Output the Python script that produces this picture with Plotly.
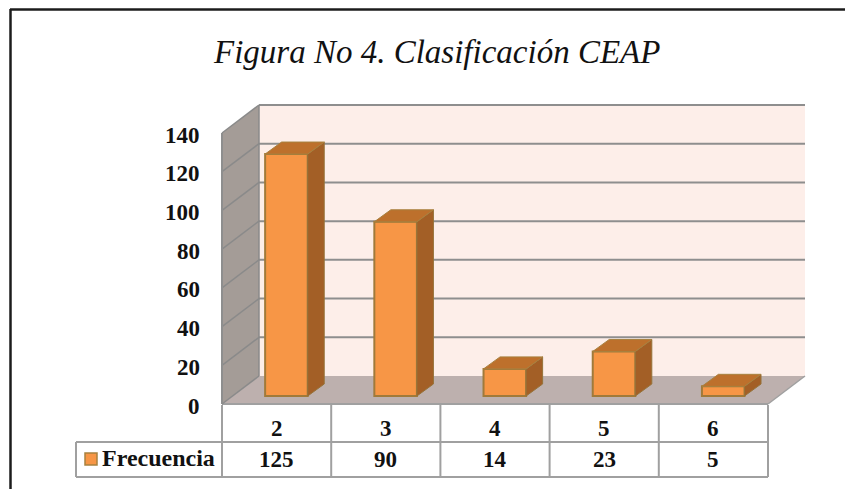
import plotly.graph_objects as go

categories = ["2", "3", "4", "5", "6"]
frecuencia = [125, 90, 14, 23, 5]
y_ticks = [0, 20, 40, 60, 80, 100, 120, 140]

WIDTH, HEIGHT = 845, 489
FONT = "Liberation Serif"
DARK = "#1c1c1c"
GRID = "#8e8e8e"

# pixels of one unit on each axis, and where (0, 0) of the front plane sits
X_UNIT, Y_UNIT = 109.2, 271 / 140
X0_PX, Y0_PX = 222, 404

# depth of the walls and of the bars, in axis units
WALL_DX, WALL_DY = 37 / X_UNIT, 28 / Y_UNIT
BAR_DX, BAR_DY = 16.5 / X_UNIT, 12 / Y_UNIT
BAR_BASE = 8 / Y_UNIT
BAR_SHIFT = 0.59
BAR_WIDTH = 0.39
N = len(categories)
TOP = y_ticks[-1]


def px(v):
    return v / WIDTH


def py(v):
    return 1 - v / HEIGHT


def poly(x, y, color):
    path = "M " + " L ".join(f"{a},{b}" for a, b in zip(x, y)) + " Z"
    return dict(type="path", path=path, xref="x", yref="y", fillcolor=color, line=dict(width=0), layer="below")


def seg(x0, y0, x1, y1, color=GRID, width=2):
    return dict(type="line", x0=x0, y0=y0, x1=x1, y1=y1, xref="x", yref="y", line=dict(color=color, width=width), layer="below")


def table_line(x0, y0, x1, y1):
    return dict(type="line", x0=px(x0), y0=py(y0), x1=px(x1), y1=py(y1), xref="paper", yref="paper", line=dict(color="#a0a0a0", width=2))


def label(x, y, text, size, xanchor="center"):
    return dict(x=px(x), y=py(y), xref="paper", yref="paper", text=text, showarrow=False,
                xanchor=xanchor, yanchor="middle", font=dict(family=FONT, size=size, color="#111111"))


shapes = [
    poly([WALL_DX, N + WALL_DX, N + WALL_DX, WALL_DX], [WALL_DY, WALL_DY, TOP + WALL_DY, TOP + WALL_DY], "#fdeee9"),
    poly([0, WALL_DX, WALL_DX, 0], [0, WALL_DY, TOP + WALL_DY, TOP], "#a49c97"),
    poly([0, N, N + WALL_DX, WALL_DX], [0, 0, WALL_DY, WALL_DY], "#bdb0ae"),
]
for t in y_ticks[1:]:
    shapes.append(seg(WALL_DX, t + WALL_DY, N + WALL_DX, t + WALL_DY))
    shapes.append(seg(0, t, WALL_DX, t + WALL_DY, "#8a8a8a", 1.5))
shapes += [
    seg(0, 0, 0, TOP),
    seg(WALL_DX, WALL_DY, WALL_DX, TOP + WALL_DY, "#8a8a8a", 1.5),
    seg(0, 0, N, 0, "#a0a0a0", 2),
    seg(0, 0, WALL_DX, WALL_DY, "#8a8a8a", 1.5),
    seg(N, 0, N + WALL_DX, WALL_DY, "#a0a0a0", 1.5),
]

# data table under the plot
for i in range(N + 1):
    shapes.append(table_line(X0_PX + i * X_UNIT, 405, X0_PX + i * X_UNIT, 477))
shapes += [
    table_line(76, 442, X0_PX + N * X_UNIT, 442),
    table_line(76, 477, X0_PX + N * X_UNIT, 477),
    table_line(76, 442, 76, 477),
    dict(type="rect", x0=px(85), y0=py(453), x1=px(97), y1=py(465), xref="paper", yref="paper",
         fillcolor="#f79646", line=dict(color="#a8813f", width=1.5)),
    # outer frame, open on the right and at the bottom
    dict(type="line", x0=px(10), y0=py(9.5), x1=1, y1=py(9.5), xref="paper", yref="paper", line=dict(color=DARK, width=2.5)),
    dict(type="line", x0=px(10.5), y0=py(9), x1=px(10.5), y1=0, xref="paper", yref="paper", line=dict(color=DARK, width=2.5)),
]

fig = go.Figure()

centers = [i + BAR_SHIFT for i in range(N)]
fig.add_trace(go.Bar(
    x=centers, y=frecuencia, base=BAR_BASE, width=BAR_WIDTH,
    marker=dict(color="#f79646", line=dict(color="#a07a3a", width=2)),
    hoverinfo="skip", showlegend=False,
))

half = BAR_WIDTH / 2
for c, v in zip(centers, frecuencia):
    top = v + BAR_BASE
    # right face
    fig.add_trace(go.Scatter(
        x=[c + half, c + half + BAR_DX, c + half + BAR_DX, c + half, c + half],
        y=[BAR_BASE, BAR_BASE + BAR_DY, top + BAR_DY, top, BAR_BASE],
        mode="lines", fill="toself", fillcolor="#a35f26", line=dict(color="#96733a", width=1),
        hoverinfo="skip", showlegend=False,
    ))
    # top face
    fig.add_trace(go.Scatter(
        x=[c - half, c + half, c + half + BAR_DX, c - half + BAR_DX, c - half],
        y=[top, top, top + BAR_DY, top + BAR_DY, top],
        mode="lines", fill="toself", fillcolor="#bd702c", line=dict(color="#a8813f", width=1),
        hoverinfo="skip", showlegend=False,
    ))

annotations = []
for t in y_ticks:
    annotations.append(dict(x=0, y=t, xref="x", yref="y", text=f"<b>{t}</b>", showarrow=False,
                            xanchor="right", yanchor="middle", xshift=-20, yshift=-2,
                            font=dict(family=FONT, size=23, color="#111111")))
for i, (c, v) in enumerate(zip(categories, frecuencia)):
    cx = X0_PX + (i + 0.5) * X_UNIT
    annotations.append(label(cx, 428, f"<b>{c}</b>", 23))
    annotations.append(label(cx, 459, f"<b>{v}</b>", 23))
annotations.append(label(100, 458, "<b>Frecuencia</b>", 24, "left"))
annotations.append(label(436, 52, "<i>Figura No 4. Clasificación CEAP</i>", 33))

fig.update_layout(
    width=WIDTH, height=HEIGHT,
    margin=dict(l=0, r=0, t=0, b=0),
    paper_bgcolor="white", plot_bgcolor="white",
    shapes=shapes, annotations=annotations,
    xaxis=dict(visible=False, range=[-X0_PX / X_UNIT, (WIDTH - X0_PX) / X_UNIT], fixedrange=True),
    yaxis=dict(visible=False, range=[(Y0_PX - HEIGHT) / Y_UNIT, Y0_PX / Y_UNIT], fixedrange=True),
    showlegend=False,
)
# the browser's default body margin would push the figure off the window
fig.write_html("out.html", config=dict(displayModeBar=False),
               post_script="document.body.style.margin='0';document.body.style.overflow='hidden';")
